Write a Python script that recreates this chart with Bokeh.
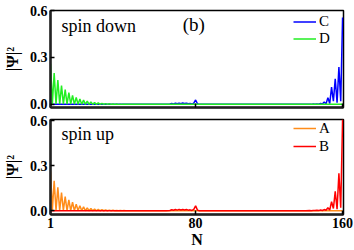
from bokeh.plotting import figure
from bokeh.models import Range1d, FixedTicker, PrintfTickFormatter, Legend, LegendItem, Label
from bokeh.layouts import column
from bokeh.embed import file_html
from bokeh.resources import INLINE

# ---------------- data ----------------
X_TICKS = [1, 80, 160]
Y_TICKS = [0.0, 0.3, 0.6]

# left edge states (spin down D green / spin up A orange)
LEFT_N = [1, 2, 3, 4, 5, 6, 7, 8, 9, 10, 11, 12, 13, 14, 15, 16, 17, 18, 19, 20,
          21, 22, 23, 24, 25, 26, 27, 28, 29, 30, 31, 32, 33, 34, 35, 36, 37, 38, 39, 40,
          41, 42, 160]
D_VAL = [0.26, 0.003, 0.20, 0.002, 0.155, 0.002, 0.12, 0.002, 0.095, 0.001, 0.075, 0.001,
         0.058, 0.001, 0.045, 0.001, 0.035, 0.0, 0.027, 0.0, 0.021, 0.0, 0.016, 0.0,
         0.012, 0.0, 0.009, 0.0, 0.007, 0.0, 0.005, 0.0, 0.004, 0.0, 0.003, 0.0,
         0.002, 0.0, 0.0015, 0.0, 0.001, 0.0, 0.0]
A_VAL = [0.262, 0.003, 0.20, 0.002, 0.156, 0.002, 0.121, 0.002, 0.094, 0.001, 0.073, 0.001,
         0.057, 0.001, 0.044, 0.001, 0.034, 0.0, 0.026, 0.0, 0.02, 0.0, 0.015, 0.0,
         0.012, 0.0, 0.009, 0.0, 0.007, 0.0, 0.005, 0.0, 0.004, 0.0, 0.003, 0.0,
         0.002, 0.0, 0.0015, 0.0, 0.001, 0.0, 0.0]

# right edge states (spin down C blue / spin up B red), with the small bump near N = 80
RIGHT_N = [1, 64, 66, 67, 68, 69, 70, 71, 72, 73, 74, 75, 76, 77, 78, 79, 80, 81, 82,
           140, 142, 143, 144, 145, 146, 147, 148, 149, 150, 151, 152, 153, 154, 155,
           156, 157, 158, 159, 160]
C_VAL = [0.0, 0.0, 0.002, 0.006, 0.003, 0.007, 0.004, 0.008, 0.004, 0.009, 0.005, 0.008,
         0.004, 0.005, 0.002, 0.008, 0.028, 0.004, 0.0,
         0.0, 0.001, 0.0, 0.002, 0.001, 0.003, 0.001, 0.006, 0.002, 0.015, 0.003, 0.043,
         0.005, 0.11, 0.02, 0.164, 0.01, 0.238, 0.02, 0.555]
B_VAL = [0.0, 0.0, 0.002, 0.007, 0.003, 0.008, 0.004, 0.009, 0.005, 0.009, 0.005, 0.008,
         0.004, 0.006, 0.002, 0.009, 0.033, 0.004, 0.0,
         0.0, 0.001, 0.0, 0.002, 0.001, 0.003, 0.001, 0.005, 0.002, 0.008, 0.003, 0.02,
         0.005, 0.06, 0.015, 0.13, 0.01, 0.25, 0.02, 0.61]

SERIF = "Liberation Serif"
BLUE = "#0000ff"
GREEN = "#22ee22"
ORANGE = "#ff8c1a"
RED = "#ff0000"


def style(p, show_x_labels):
    p.xgrid.visible = False
    p.ygrid.visible = False
    p.outline_line_color = "black"
    p.outline_line_width = 1.5
    p.background_fill_color = "white"
    p.border_fill_color = "white"
    for ax in (p.xaxis[0], p.yaxis[0]):
        ax.axis_line_width = 2.5
        ax.axis_line_color = "#222222"
        ax.major_tick_in = 4
        ax.major_tick_out = 0
        ax.major_tick_line_width = 1.5
        ax.major_tick_line_color = "black"
        ax.minor_tick_line_color = None
        ax.major_label_text_font = SERIF
        ax.major_label_text_font_style = "bold"
        ax.major_label_text_font_size = "14px"
        ax.major_label_text_color = "black"
        ax.axis_label_text_font = SERIF
        ax.axis_label_text_font_style = "bold"
        ax.axis_label_text_font_size = "16px"
        ax.axis_label_text_color = "black"
    p.xaxis[0].ticker = FixedTicker(ticks=X_TICKS)
    p.yaxis[0].ticker = FixedTicker(ticks=Y_TICKS)
    p.yaxis[0].formatter = PrintfTickFormatter(format="%.1f")
    p.yaxis[0].major_label_standoff = 3
    p.yaxis[0].axis_label = "|Ψ|²"
    p.yaxis[0].axis_label_standoff = 6
    if show_x_labels:
        p.xaxis[0].major_label_standoff = 3
        p.xaxis[0].axis_label = "N"
        p.xaxis[0].axis_label_standoff = 0
    else:
        p.xaxis[0].major_label_overrides = {1: "", 80: "", 160: ""}
        p.xaxis[0].major_label_standoff = 0


def make_legend(r1, n1, r2, n2, loc, h):
    return Legend(items=[LegendItem(label=n1, renderers=[r1]), LegendItem(label=n2, renderers=[r2])],
                  location=loc, padding=0, spacing=0, margin=0,
                  glyph_width=23, glyph_height=h, label_height=h, label_standoff=3,
                  label_text_font=SERIF, label_text_font_size="15px", label_text_color="black",
                  background_fill_alpha=0, border_line_alpha=0)


# ---------------- top panel: spin down ----------------
p1 = figure(width=354, height=113, x_range=Range1d(1, 160.5), y_range=Range1d(-0.02, 0.6),
            output_backend="svg", toolbar_location=None,
            min_border_left=49, min_border_right=11, min_border_top=10, min_border_bottom=6)
style(p1, False)
rc = p1.line(RIGHT_N, C_VAL, line_color=BLUE, line_width=1.5)
rd = p1.line(LEFT_N, D_VAL, line_color=GREEN, line_width=1.5)
p1.add_layout(make_legend(rc, "C", rd, "D", (243, 60), 17))
p1.add_layout(Label(x=7, y=0.50, text="spin down", text_font=SERIF, text_font_size="18px",
                    text_color="black", text_baseline="alphabetic"))
p1.add_layout(Label(x=73, y=0.51, text="(b)", text_font=SERIF, text_font_size="19px",
                    text_color="black", text_baseline="alphabetic"))

# ---------------- bottom panel: spin up ----------------
p2 = figure(width=354, height=137, x_range=Range1d(1, 160.5), y_range=Range1d(-0.025, 0.61),
            output_backend="svg", toolbar_location=None,
            min_border_left=49, min_border_right=11, min_border_top=6, min_border_bottom=33)
style(p2, True)
ra = p2.line(LEFT_N, A_VAL, line_color=ORANGE, line_width=1.5)
rb = p2.line(RIGHT_N, B_VAL, line_color=RED, line_width=1.5)
p2.add_layout(make_legend(ra, "A", rb, "B", (243, 59), 18))
p2.add_layout(Label(x=7, y=0.51, text="spin up", text_font=SERIF, text_font_size="18px",
                    text_color="black", text_baseline="alphabetic"))

layout = column(p1, p2, spacing=0)
open("out.html", "w").write(file_html(layout, INLINE))
